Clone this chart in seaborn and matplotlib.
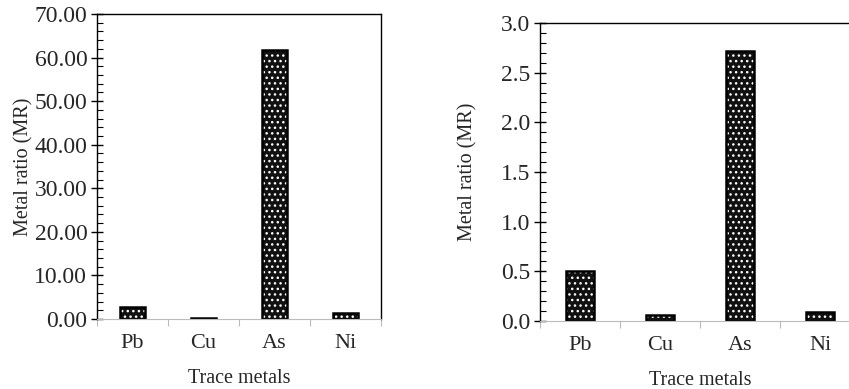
import matplotlib
matplotlib.use("Agg")
import matplotlib.pyplot as plt
import seaborn as sns
from matplotlib.ticker import MultipleLocator, FormatStrFormatter, FixedLocator

sns.set_style("white")
plt.rcParams['font.family'] = ['Liberation Serif', 'DejaVu Serif']
plt.rcParams['hatch.linewidth'] = 1.0

metals = ["Pb", "Cu", "As", "Ni"]
mr_left = [2.8, 0.3, 61.8, 1.3]
mr_right = [0.50, 0.065, 2.72, 0.087]

fig = plt.figure(figsize=(8.49, 3.89), dpi=100)
W, H = 849, 389
ax1 = fig.add_axes([97 / W, 1 - 319 / H, 284 / W, 305 / H])
ax2 = fig.add_axes([540 / W, 1 - 321 / H, 320 / W, 298 / H])


def draw(ax, vals, ymax, major, minor, fmt, ylabpad):
    sns.barplot(x=metals, y=vals, ax=ax, color="#111111", width=0.35,
                edgecolor="white", linewidth=0, saturation=1)
    for p in ax.patches:
        p.set_hatch("...")
    sns.barplot(x=metals, y=vals, ax=ax, fill=False, width=0.35,
                edgecolor="black", linewidth=1.8)
    ax.set_ylim(0, ymax)
    ax.set_xlim(-0.5, 3.5)
    ax.yaxis.set_major_locator(MultipleLocator(major))
    ax.yaxis.set_minor_locator(MultipleLocator(minor))
    ax.yaxis.set_major_formatter(FormatStrFormatter(fmt))
    ax.tick_params(axis="y", which="major", direction="inout", length=8,
                   width=1, color="black", labelsize=17, pad=3, left=True)
    ax.tick_params(axis="y", which="minor", direction="in", length=4,
                   width=0.8, color="black", left=True)
    ax.xaxis.set_minor_locator(FixedLocator([-0.5, 0.5, 1.5, 2.5, 3.5]))
    ax.tick_params(axis="x", which="major", length=0, labelsize=16, pad=11)
    ax.tick_params(axis="x", which="minor", direction="out", length=5,
                   width=0.8, color="#bbbbbb", bottom=True)
    for s in ["left", "top", "right"]:
        ax.spines[s].set_color("black")
        ax.spines[s].set_linewidth(1.0)
    ax.spines["bottom"].set_color("#bbbbbb")
    ax.spines["bottom"].set_linewidth(0.8)
    ax.set_xlabel("Trace metals", fontsize=14.5, labelpad=11)
    ax.set_ylabel("Metal ratio (MR)", fontsize=14.5, labelpad=ylabpad)


draw(ax1, mr_left, 70, 10, 2, "%.2f", 1)
draw(ax2, mr_right, 3.0, 0.5, 0.1, "%.1f", 17)

fig.savefig("out.png", dpi=100)
